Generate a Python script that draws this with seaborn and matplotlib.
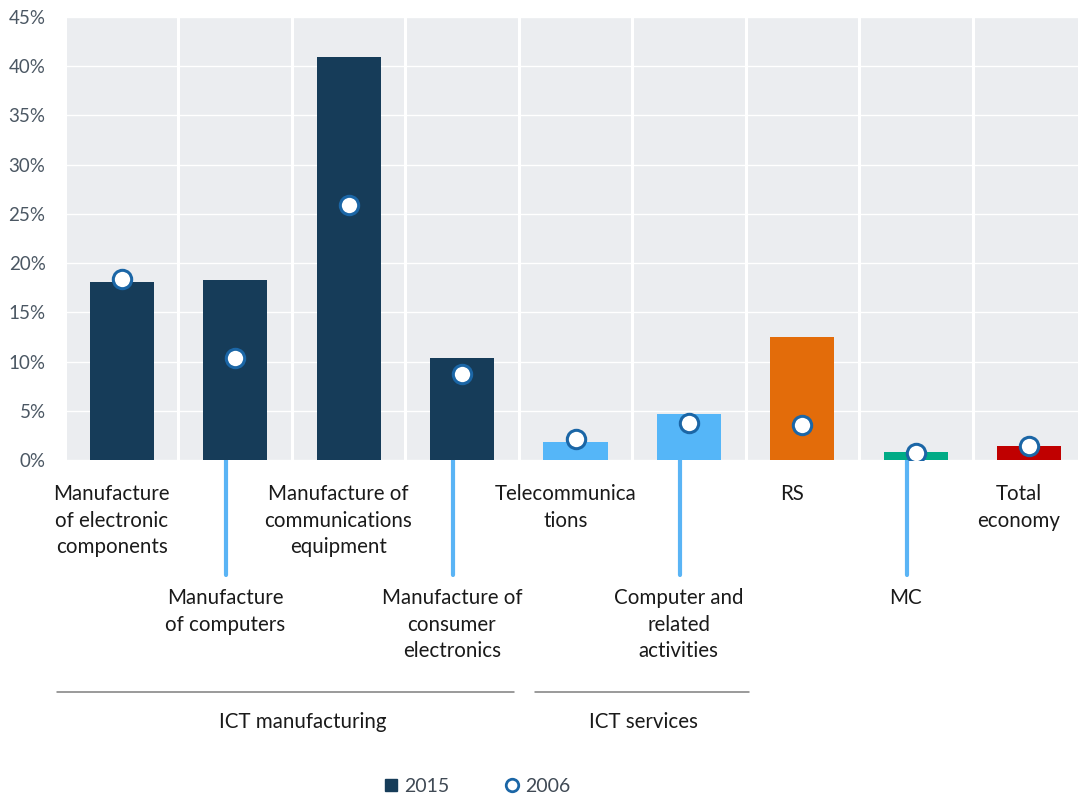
import numpy as np
import pandas as pd
import matplotlib
matplotlib.use("Agg")
import matplotlib.pyplot as plt
import matplotlib.transforms as mtransforms
from matplotlib.lines import Line2D
from matplotlib.ticker import FuncFormatter
import seaborn as sns

# Category labels (as printed under the axis)
categories = [
    "Manufacture\nof electronic\ncomponents",
    "Manufacture\nof computers",
    "Manufacture of\ncommunications\nequipment",
    "Manufacture of\nconsumer\nelectronics",
    "Telecommunica\ntions",
    "Computer and\nrelated\nactivities",
    "RS",
    "MC",
    "Total\neconomy",
]
# Shares (fraction) for the two years
values_2015 = [0.181, 0.183, 0.409, 0.104, 0.018, 0.047, 0.125, 0.008, 0.014]
values_2006 = [0.184, 0.104, 0.259, 0.087, 0.021, 0.038, 0.036, 0.007, 0.014]
bar_colors = ["#163c59", "#163c59", "#163c59", "#163c59",
              "#55b6f8", "#55b6f8", "#e36c0a", "#00ab86", "#c00000"]
group_names = ["ICT manufacturing", "ICT services"]
group_spans = [(0, 3), (4, 5)]
y_ticks = [0.0, 0.05, 0.10, 0.15, 0.20, 0.25, 0.30, 0.35, 0.40, 0.45]

df = pd.DataFrame({
    "key": [f"c{i}" for i in range(len(categories))],
    "v2015": values_2015,
    "v2006": values_2006,
})

sns.set_theme(style="white")
plt.rcParams["font.family"] = ["Lato", "DejaVu Sans"]

W, H = 1078, 798
fig = plt.figure(figsize=(W / 100, H / 100), dpi=100)
ax = fig.add_axes([65 / W, 338 / H, (1086 - 65) / W, 443 / H])
ax.set_facecolor("#ebedf0")

sns.barplot(data=df, x="key", y="v2015", hue="key", palette=bar_colors,
            width=0.565, legend=False, ax=ax, saturation=1, zorder=3,
            linewidth=0, edgecolor="none")
sns.scatterplot(x=np.arange(len(categories)), y=values_2006, ax=ax,
                s=175, color="white", edgecolor="#1b66a6", linewidth=2.2,
                zorder=5, legend=False)

ax.set_xlim(-0.5, len(categories) - 0.5)
ax.set_ylim(0, 0.45)
ax.set_yticks(y_ticks)
ax.yaxis.set_major_formatter(FuncFormatter(lambda v, p: f"{v * 100:.0f}%"))
ax.tick_params(axis="y", length=0, pad=14, labelsize=13.5, labelcolor="#4b5763")
ax.set_xticks([])
ax.set_xlabel("")
ax.set_ylabel("")
for s in ax.spines.values():
    s.set_visible(False)

# white grid: horizontal at ticks, vertical between categories
for y in y_ticks:
    ax.axhline(y, color="white", lw=1.0, zorder=1)
for i in range(len(categories) + 1):
    ax.axvline(i - 0.5, color="white", lw=2.2, zorder=1)

# category labels with staggered rows
tr = mtransforms.blended_transform_factory(ax.transData, fig.transFigure)
shift = -0.09
for i, lab in enumerate(categories):
    x = i + shift
    if i % 2 == 0:
        ytop = (H - 484) / H
    else:
        ytop = (H - 588) / H
        ax.add_line(Line2D([i - 0.08, i - 0.08], [(H - 460) / H, (H - 575) / H],
                           transform=tr, color="#5ab4f5", lw=3,
                           clip_on=False))
    ax.text(x, ytop, lab, transform=tr, ha="center", va="top",
            fontsize=14.8, color="#1a1a1a", linespacing=1.42)

# group brackets
bracket_pad = [(-0.57, 0.46), (-0.36, 0.53)]
for name, (a, b), (pa, pb) in zip(group_names, group_spans, bracket_pad):
    x0 = a + pa
    x1 = b + pb
    ax.add_line(Line2D([x0, x1], [(H - 692) / H] * 2, transform=tr,
                       color="#7f7f7f", lw=1.1, clip_on=False))
    ax.text((a + b) / 2 + 0.1, (H - 722) / H, name, transform=tr,
            ha="center", va="center", fontsize=14.8, color="#1a1a1a")

# legend
handles = [
    Line2D([], [], marker="s", ls="none", markersize=9,
           markerfacecolor="#163c59", markeredgecolor="#163c59"),
    Line2D([], [], marker="o", ls="none", markersize=9,
           markerfacecolor="white", markeredgecolor="#1b66a6",
           markeredgewidth=2),
]
fig.legend(handles, ["2015", "2006"], loc="center",
           bbox_to_anchor=(477 / W, (H - 786) / H), ncol=2, frameon=False,
           fontsize=14, handlelength=0.8, handletextpad=0.3,
           columnspacing=2.8, labelcolor="#404a55")

fig.savefig("out.png", dpi=100)
